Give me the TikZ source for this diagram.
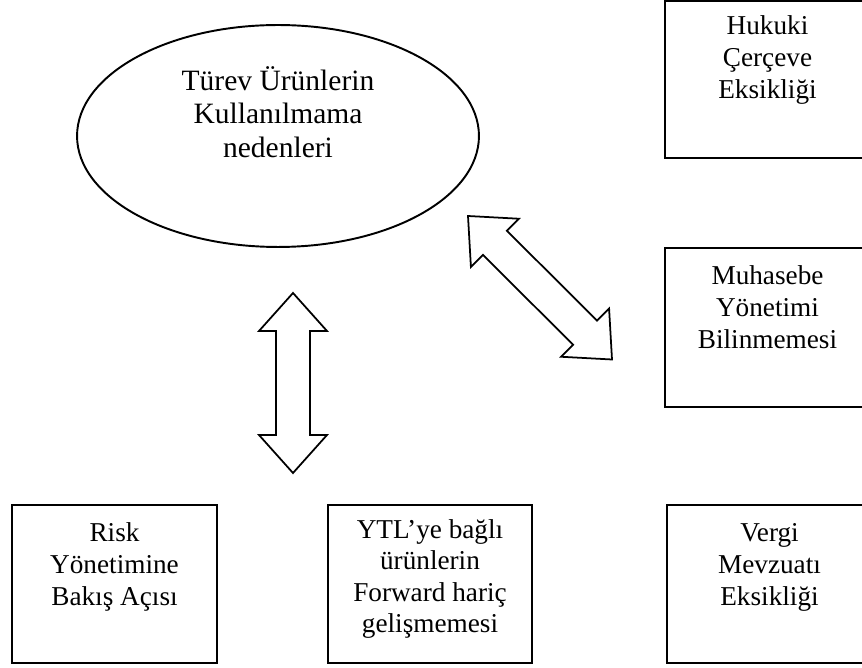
\documentclass[tikz,border=0pt]{standalone}
\usepackage{fontspec}
\setmainfont{Liberation Serif}
\usetikzlibrary{calc,shapes.geometric}
\newcommand{\tstrut}[1]{\rule{0pt}{#1}}
\newcommand{\bstrut}[1]{\rule[-#1]{0pt}{#1}}
% double block arrow between two named points
\newcommand{\blockarrow}[2]{%
	\path ($(#1)!0.76cm!(#2)$) coordinate (ba1) ($(#2)!0.76cm!(#1)$) coordinate (ba2);
	\draw[barr] (#1) -- ($(ba1)!0.68cm!90:(#2)$) -- ($(ba1)!0.34cm!90:(#2)$)
		-- ($(ba2)!0.34cm!-90:(#1)$) -- ($(ba2)!0.68cm!-90:(#1)$) -- (#2)
		-- ($(ba2)!0.68cm!90:(#1)$) -- ($(ba2)!0.34cm!90:(#1)$)
		-- ($(ba1)!0.34cm!-90:(#2)$) -- ($(ba1)!0.68cm!-90:(#2)$) -- cycle;}
\tikzset{
	rbox/.style={
		draw,
		rectangle,
		inner sep=0pt,
		align=center,
		line width=1.1pt,
		minimum width=4.1cm,
		minimum height=3.16cm,
		font=\fontsize{15.5}{18}\selectfont
	},
	goal/.style={draw, ellipse, inner sep=0pt, align=center, line width=1.1pt,
		minimum width=8.04cm, minimum height=4.44cm,
		font=\fontsize{16.8}{19.3}\selectfont},
	barr/.style={draw, line width=1pt, line join=miter, fill=white}
}
\begin{document}
\begin{tikzpicture}[x=0.02cm, y=-0.02cm]
	\useasboundingbox (0,0) rectangle (862,668);
	\clip (0,0) rectangle (862,668);
	% centre
	\node[goal] (neden) at (278,136) {\tstrut{0.56cm}Türev Ürünlerin\\Kullanılmama\\nedenleri\bstrut{1.04cm}};
	% right column
	\node[rbox, line width=1.5pt, minimum height=3.14cm] (hukuk) at (767.5,79.5) {\tstrut{0.68cm}Hukuki\\Çerçeve\\Eksikliği\bstrut{1.2cm}};
	\node[rbox, minimum height=3.18cm] (muhasebe) at (767.5,327.5) {\tstrut{0.74cm}Muhasebe\\Yönetimi\\Bilinmemesi\bstrut{1.18cm}};
	% bottom row
	\node[rbox] (risk) at (114.5,584) {\tstrut{0.74cm}Risk\\Yönetimine\\Bakış Açısı\bstrut{1.16cm}};
	\node[rbox, minimum width=4.08cm] (ytl) at (430,584) {\tstrut{0.66cm}YTL’ye bağlı\\ürünlerin\\Forward hariç\\gelişmemesi\bstrut{0.6cm}};
	\node[rbox] (vergi) at (769.5,584) {\tstrut{0.74cm}Vergi\\Mevzuatı\\Eksikliği\bstrut{1.16cm}};
	% arrows
	\coordinate (vtop) at (293,293);
	\coordinate (vbot) at (293,473);
	\coordinate (dtop) at (468,216);
	\coordinate (dbot) at (612,359.5);
	\blockarrow{vtop}{vbot}
	\blockarrow{dtop}{dbot}
\end{tikzpicture}
\end{document}
